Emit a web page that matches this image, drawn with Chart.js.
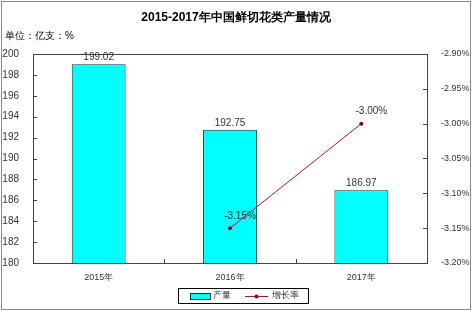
<!DOCTYPE html>
<html>
<head>
<meta charset="utf-8">
<script src="https://cdn.jsdelivr.net/npm/chart.js@4/dist/chart.umd.min.js"></script>
<style>
  html, body { margin: 0; padding: 0; background: #fff; }
  #wrap { width: 473px; height: 314px; }
</style>
</head>
<body>
<div id="wrap"><canvas id="chartCanvas" width="473" height="314"></canvas></div>
<script>
// data
const years = ['2015年', '2016年', '2017年'];
const output = [199.02, 192.75, 186.97];
const growth = [null, -3.15, -3.00];
const growthLabels = ['', '-3.15%', '-3.00%'];

const titleText = '2015-2017年中国鲜切花类产量情况';
const unitText = '单位：亿支：%';
const font = '"Liberation Sans", Arial, sans-serif';

// frame, inward ticks, title, labels and legend
const decorPlugin = {
    id: 'decor',
    afterDraw(chart) {
        const ctx = chart.ctx;
        const a = chart.chartArea;
        ctx.save();
        // outer border
        ctx.strokeStyle = '#8a8a8a';
        ctx.lineWidth = 1;
        ctx.strokeRect(1.5, 1.5, 469, 308);
        // plot border
        ctx.strokeStyle = '#444';
        ctx.strokeRect(a.left + 0.5, a.top + 0.5, a.right - a.left, a.bottom - a.top);

        // inward tick marks
        ctx.beginPath();
        const sy = chart.scales.y, sy1 = chart.scales.y1, sx = chart.scales.x;
        sy.ticks.forEach(t => {
            const py = Math.round(sy.getPixelForValue(t.value)) + 0.5;
            ctx.moveTo(a.left, py); ctx.lineTo(a.left + 4, py);
        });
        sy1.ticks.forEach(t => {
            const py = Math.round(sy1.getPixelForValue(t.value)) + 0.5;
            ctx.moveTo(a.right - 4, py); ctx.lineTo(a.right, py);
        });
        for (let i = 1; i < years.length; i++) {
            const px = Math.round((sx.getPixelForValue(i - 1) + sx.getPixelForValue(i)) / 2) + 0.5;
            ctx.moveTo(px, a.bottom); ctx.lineTo(px, a.bottom - 4);
        }
        ctx.stroke();

        ctx.fillStyle = '#000';
        ctx.font = 'bold 12px ' + font;
        ctx.textAlign = 'center';
        ctx.textBaseline = 'middle';
        ctx.fillText(titleText, 236, 18);
        ctx.font = '10px ' + font;
        ctx.textAlign = 'left';
        ctx.fillText(unitText, 5, 36);

        // value labels
        ctx.fillStyle = '#333';
        ctx.textAlign = 'center';
        ctx.textBaseline = 'bottom';
        const bars = chart.getDatasetMeta(0).data;
        bars.forEach((b, i) => ctx.fillText(output[i].toFixed(2), b.x, b.y - 2));
        const pts = chart.getDatasetMeta(1).data;
        pts.forEach((p, i) => {
            if (growth[i] === null) return;
            ctx.fillText(growthLabels[i], p.x + 10, p.y - 7);
        });

        // legend
        ctx.strokeStyle = '#000';
        ctx.strokeRect(178.5, 288.5, 130, 15);
        ctx.fillStyle = '#00ffff';
        ctx.fillRect(190, 293, 20, 6);
        ctx.strokeStyle = '#003c3c';
        ctx.strokeRect(190.5, 293.5, 20, 6);
        ctx.fillStyle = '#333';
        ctx.textBaseline = 'middle';
        ctx.textAlign = 'left';
        ctx.font = '9px ' + font;
        ctx.fillText('产量', 213, 296);
        ctx.strokeStyle = '#b0103a';
        ctx.beginPath();
        ctx.moveTo(245, 296.5);
        ctx.lineTo(268, 296.5);
        ctx.stroke();
        ctx.fillStyle = '#800040';
        ctx.beginPath();
        ctx.arc(256.5, 296.5, 2, 0, Math.PI * 2);
        ctx.fill();
        ctx.fillStyle = '#333';
        ctx.fillText('增长率', 272, 296);
        ctx.restore();
    }
};

new Chart(document.getElementById('chartCanvas'), {
    data: {
        labels: years,
        datasets: [
            {
                type: 'bar',
                label: '产量',
                data: output,
                backgroundColor: '#00ffff',
                borderColor: '#003c3c',
                borderWidth: 1,
                categoryPercentage: 1,
                barPercentage: 0.41,
                yAxisID: 'y',
                order: 2
            },
            {
                type: 'line',
                label: '增长率',
                data: growth,
                borderColor: '#b0103a',
                borderWidth: 1,
                backgroundColor: '#800040',
                pointRadius: 2,
                pointBorderWidth: 0,
                yAxisID: 'y1',
                order: 1
            }
        ]
    },
    options: {
        responsive: false,
        animation: false,
        devicePixelRatio: 1,
        layout: { padding: { top: 54, left: 0, right: 0, bottom: 0 } },
        plugins: {
            legend: { display: false },
            tooltip: { enabled: false },
            title: { display: false }
        },
        scales: {
            x: {
                grid: { display: false },
                border: { color: '#444' },
                ticks: { color: '#333', font: { size: 9, family: font }, padding: 1 },
                afterFit(s) { s.height = 51; }
            },
            y: {
                position: 'left',
                min: 180,
                max: 200,
                grid: { display: false },
                border: { color: '#444' },
                ticks: { stepSize: 2, color: '#333', font: { size: 10, family: font }, padding: 6 },
                afterFit(s) { s.width = 33; }
            },
            y1: {
                position: 'right',
                min: -3.2,
                max: -2.9,
                grid: { display: false },
                border: { color: '#444' },
                ticks: {
                    stepSize: 0.05,
                    color: '#333',
                    font: { size: 9, family: font },
                    padding: 6,
                    callback: v => v.toFixed(2) + '%'
                },
                afterFit(s) { s.width = 46; }
            }
        }
    },
    plugins: [decorPlugin]
});
</script>
</body>
</html>
